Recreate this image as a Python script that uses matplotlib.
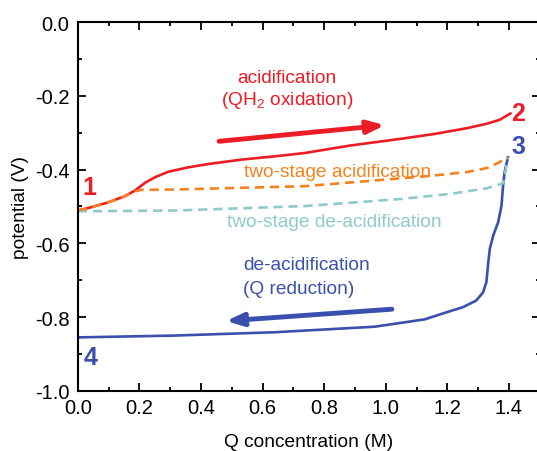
import matplotlib.pyplot as plt
from matplotlib.ticker import MultipleLocator
import numpy as np

plt.rcParams['font.family'] = ['Liberation Sans', 'DejaVu Sans']
plt.rcParams['axes.unicode_minus'] = False
plt.rcParams['mathtext.fontset'] = 'custom'
plt.rcParams['mathtext.rm'] = 'Liberation Sans'

# acidification (QH2 oxidation), point 1 -> 2
acid_q = [0.0, 0.044, 0.098, 0.153, 0.185, 0.218, 0.25, 0.293, 0.358, 0.423, 0.531, 0.64,
          0.737, 0.883, 1.045, 1.154, 1.262, 1.327, 1.37, 1.405]
acid_v = [-0.511, -0.502, -0.489, -0.472, -0.457, -0.436, -0.421, -0.406, -0.394, -0.385, -0.373, -0.364,
          -0.355, -0.335, -0.317, -0.304, -0.288, -0.276, -0.265, -0.248]

# two-stage acidification
two_acid_q = [0.0, 0.044, 0.098, 0.153, 0.185, 0.207, 0.32, 0.737, 1.132, 1.262, 1.338, 1.397]
two_acid_v = [-0.511, -0.502, -0.489, -0.472, -0.459, -0.455, -0.454, -0.445, -0.418, -0.407, -0.394, -0.367]

# two-stage de-acidification
two_deacid_q = [0.0, 0.315, 0.737, 1.045, 1.208, 1.327, 1.381, 1.39, 1.397]
two_deacid_v = [-0.513, -0.511, -0.499, -0.480, -0.466, -0.451, -0.437, -0.40, -0.367]

# de-acidification (Q reduction), point 3 -> 4
deacid_q = [1.397, 1.386, 1.381, 1.376, 1.365, 1.349, 1.338, 1.332, 1.327, 1.316, 1.294, 1.251,
            1.197, 1.127, 0.964, 0.64, 0.315, 0.0]
deacid_v = [-0.367, -0.407, -0.444, -0.498, -0.543, -0.579, -0.615, -0.66, -0.705, -0.733, -0.755, -0.773,
            -0.787, -0.806, -0.826, -0.841, -0.850, -0.855]

red = '#ec1c24'
orange = '#f5821f'
teal = '#8fcaca'
blue = '#3a50ac'

fig = plt.figure(figsize=(5.37, 4.52), dpi=100)
ax = fig.add_axes([0.145, 0.133, 0.86, 0.816])

ax.plot(acid_q, acid_v, color=red, lw=1.9)
ax.plot(deacid_q, deacid_v, color=blue, lw=1.9)
ax.plot(two_deacid_q, two_deacid_v, color=teal, lw=1.9, ls=(0, (3.5, 2.2)))
ax.plot(two_acid_q, two_acid_v, color=orange, lw=1.9, ls=(0, (3.5, 2.2)))

# direction arrows
ax.annotate('', xy=(1.006, -0.279), xytext=(0.45, -0.324),
            arrowprops=dict(arrowstyle='-|>,head_length=1.0,head_width=0.38', color=red, lw=3.5))
ax.annotate('', xy=(0.472, -0.811), xytext=(1.029, -0.778),
            arrowprops=dict(arrowstyle='-|>,head_length=1.0,head_width=0.38', color=blue, lw=3.5))

fs = 13.8
ax.text(0.68, -0.149, 'acidification', color=red, fontsize=fs, ha='center', va='center')
ax.text(0.68, -0.211, '(QH$_2$ oxidation)', color=red, fontsize=fs, ha='center', va='center')
ax.text(0.843, -0.404, 'two-stage acidification', color=orange, fontsize=fs, ha='center', va='center')
ax.text(0.834, -0.542, 'two-stage de-acidification', color=teal, fontsize=fs, ha='center', va='center')
ax.text(0.536, -0.656, 'de-acidification', color=blue, fontsize=fs, ha='left', va='center')
ax.text(0.536, -0.723, '(Q reduction)', color=blue, fontsize=fs, ha='left', va='center')

ax.text(0.036, -0.447, '1', color=red, fontsize=18, fontweight='bold', ha='center', va='center')
ax.text(1.43, -0.247, '2', color=red, fontsize=18, fontweight='bold', ha='center', va='center')
ax.text(1.43, -0.336, '3', color=blue, fontsize=18, fontweight='bold', ha='center', va='center')
ax.text(0.04, -0.908, '4', color=blue, fontsize=18, fontweight='bold', ha='center', va='center')

ax.set_xlim(0, 1.5)
ax.set_ylim(-1.0, 0.0)
ax.set_xticks(np.arange(0, 1.41, 0.2))
ax.set_yticks(np.arange(-1.0, 0.01, 0.2))
ax.xaxis.set_minor_locator(MultipleLocator(0.1))
ax.yaxis.set_minor_locator(MultipleLocator(0.1))
ax.tick_params(which='both', direction='in', top=True, right=True, labelsize=14.5, width=1.3)
ax.tick_params(which='major', length=6)
ax.tick_params(which='minor', length=3)
ax.tick_params(axis='y', pad=6)
ax.tick_params(axis='x', pad=5)
for s in ax.spines.values():
    s.set_linewidth(1.5)

ax.set_xlabel('Q concentration (M)', fontsize=13.8, labelpad=12)
ax.set_ylabel('potential (V)', fontsize=13.8, labelpad=4)

fig.savefig('out.png', dpi=100)
